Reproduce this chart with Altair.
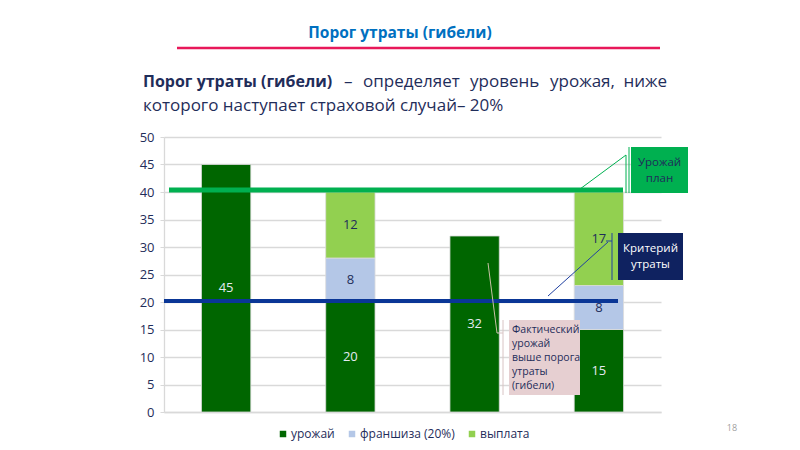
import altair as alt
import pandas as pd

# ---------------- data ----------------
categories = ["Поле 1", "Поле 2", "Поле 3", "Поле 4"]
series = ["урожай", "франшиза (20%)", "выплата"]
harvest = [45, 20, 32, 15]
deductible = [0, 8, 0, 8]
payout = [0, 12, 0, 17]
plan_level = 40
loss_threshold = 20
y_ticks = [0, 5, 10, 15, 20, 25, 30, 35, 40, 45, 50]

colors = ["#006600", "#b4c7e7", "#92d050"]

rows = []
for i, c in enumerate(categories):
    for s_idx, vals in enumerate([harvest, deductible, payout]):
        if vals[i] > 0:
            rows.append({"cat": c, "series": series[s_idx], "ord": s_idx, "value": vals[i]})
df = pd.DataFrame(rows)

# ---------------- styling ----------------
W, H = 497, 275
FONT = "Open Sans"
NAVY = "#1f2d5a"
GRID = "#d9d9d9"

xscale = alt.Scale(domain=categories, paddingInner=0.603, paddingOuter=0.3015)
yscale = alt.Scale(domain=[0, 50], nice=False)
xaxis = alt.Axis(labels=False, ticks=False, title=None, domainColor=GRID, domainWidth=1.5, grid=False)
yaxis = alt.Axis(values=y_ticks, title=None, grid=True, gridColor=GRID, gridWidth=1.3,
                 domainColor=GRID, domainWidth=1.3, tickColor=GRID, tickSize=4,
                 labelColor=NAVY, labelFontSize=13, labelFont=FONT, labelPadding=6)

base = alt.Chart(df)

bars = base.mark_bar(stroke="#dcdcdc", strokeWidth=0.8).encode(
    x=alt.X("cat:N", scale=xscale, sort=categories, axis=xaxis),
    y=alt.Y("value:Q", stack="zero", scale=yscale, axis=yaxis),
    color=alt.Color("series:N", scale=alt.Scale(domain=series, range=colors),
                    legend=alt.Legend(orient="none", legendX=113, legendY=291, direction="horizontal",
                                      title=None, symbolType="square", symbolSize=42,
                                      symbolStrokeWidth=0, labelFont=FONT, labelFontSize=12,
                                      labelColor=NAVY, labelOffset=2, columnPadding=11, padding=0)),
    order=alt.Order("ord:Q"),
)

labels = base.transform_stack(
    stack="value", groupby=["cat"], sort=[alt.SortField("ord")], as_=["y0", "y1"]
).transform_calculate(mid="(datum.y0 + datum.y1) / 2").mark_text(
    font=FONT, fontSize=13, baseline="middle"
).encode(
    x=alt.X("cat:N", scale=xscale, sort=categories, axis=xaxis),
    y=alt.Y("mid:Q", scale=yscale, axis=yaxis),
    text=alt.Text("value:Q"),
    color=alt.condition("datum.ord == 0", alt.value("#e4eaf2"), alt.value(NAVY)),
)

plan_rule = alt.Chart(pd.DataFrame({"y": [plan_level]})).mark_rule(
    color="#00b050", strokeWidth=5, yOffset=-2
).encode(y=alt.Y("y:Q", scale=yscale, axis=yaxis), x=alt.value(5), x2=alt.value(459))

thr_rule = alt.Chart(pd.DataFrame({"y": [loss_threshold]})).mark_rule(
    color="#0a3696", strokeWidth=4, yOffset=-1
).encode(y=alt.Y("y:Q", scale=yscale, axis=yaxis), x=alt.value(0), x2=alt.value(454))

one = pd.DataFrame({"k": [0]})


def txt(s, x, y, **kw):
    return alt.Chart(one).mark_text(font=FONT, baseline="middle", **kw).encode(
        x=alt.value(x), y=alt.value(y), text=alt.value(s))


def box(x, x2, y, y2, fill):
    return alt.Chart(one).mark_rect(fill=fill).encode(
        x=alt.value(x), x2=alt.value(x2), y=alt.value(y), y2=alt.value(y2))


def line(x, y, x2, y2, color, w=1.0):
    return alt.Chart(one).mark_rule(color=color, strokeWidth=w).encode(
        x=alt.value(x), y=alt.value(y), x2=alt.value(x2), y2=alt.value(y2))


annotations = [
    # slide title and red underline
    txt("Порог утраты (гибели)", 236, -104, align="center", fontSize=15.5, fontWeight="bold", color="#0070c0"),
    line(13, -89, 496, -89, "#e8185a", 2.5),
    # paragraph (justified first line)
    txt("Порог утраты (гибели)", -21, -55, align="left", fontSize=16, fontWeight="bold", color=NAVY),
    txt("–", 180, -55, align="left", fontSize=17, color=NAVY),
    txt("определяет", 199, -55, align="left", fontSize=17, color=NAVY),
    txt("уровень", 306, -55, align="left", fontSize=17, color=NAVY),
    txt("урожая,", 386, -55, align="left", fontSize=17, color=NAVY),
    txt("ниже", 503, -55, align="right", fontSize=17, color=NAVY),
    txt("которого наступает страховой случай– 20%", -21, -31, align="left", fontSize=17, color=NAVY),
    # "Урожай план" callout
    line(462, 18, 416, 52, "#00b050", 1),
    line(462, 18, 462, 56, "#00b050", 1),
    line(465, 10, 465, 56, "#00b050", 1),
    box(467, 524, 10, 56, "#00b050"),
    txt("Урожай\nплан", 495.5, 26, align="center", fontSize=11.5, lineBreak="\n", lineHeight=16, color=NAVY),
    # "Критерий утраты" callout
    line(442, 104, 448, 104, "#2040a0", 1),
    line(444, 105, 384, 159, "#2040a0", 1),
    line(448, 96, 448, 143, "#2040a0", 1),
    box(454, 519, 96, 143, "#0f2260"),
    txt("Критерий\nутраты", 486.5, 112, align="center", fontSize=11.5, lineBreak="\n", lineHeight=16, color="#ffffff"),
    # "Фактический урожай ..." callout
    line(333, 196, 324, 126, "#c9c1a6", 1),
    line(333, 196, 339, 196, "#d8c4c4", 1),
    line(339, 183, 339, 258, "#d8c4c4", 1),
    box(345, 416, 183, 258, "#e6cfd1"),
    txt("Фактический\nурожай\nвыше порога\nутраты\n(гибели)", 348, 193, align="left", fontSize=10.5,
        lineBreak="\n", lineHeight=14, color=NAVY),
    # slide number
    txt("18", 568, 291, align="center", fontSize=9, color="#a0a0a0"),
]

chart = alt.layer(bars, plan_rule, thr_rule, labels, *annotations).properties(
    width=W, height=H,
    autosize=alt.AutoSizeParams(type="none"),
    padding={"left": 156, "top": 129, "right": 131, "bottom": 30},
    background="#ffffff",
).configure_view(stroke=None)

chart.save("out.html", embed_options={"renderer": "svg", "actions": False})
